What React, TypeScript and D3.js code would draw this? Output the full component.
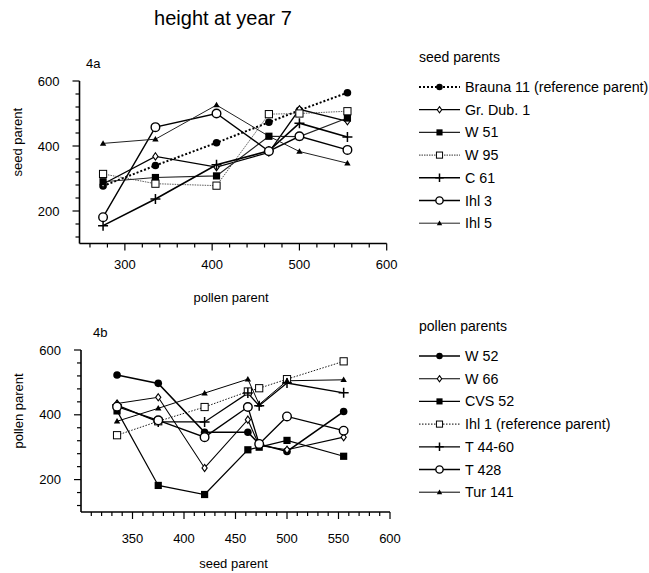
import React from "react";
import * as d3 from "d3";

// x positions: mean height of the pollen parents (4a) and seed parents (4b)
const pollenX = [275, 335, 405, 465, 500, 555];
const seedX = [335, 375, 420, 462, 473, 500, 555];

// 4a: seed parents, height at year 7
const brauna11 = [277, 340, 410, 473, 510, 564];
const grDub1 = [283, 368, 335, 380, 513, 476];
const w51 = [290, 303, 308, 430, 429, 486];
const w95 = [314, 284, 278, 498, 500, 507];
const c61 = [155, 237, 342, 385, 470, 428];
const ihl3 = [181, 458, 500, 384, 430, 388];
const ihl5 = [408, 421, 526, 430, 383, 347];

// 4b: pollen parents
const w52 = [523, 497, 346, 346, 310, 287, 410];
const w66 = [435, 454, 236, 385, 305, 292, 331];
const cvs52 = [412, 182, 154, 292, 300, 321, 272];
const ihl1 = [337, 380, 424, 472, 482, 510, 565];
const t4460 = [430, 378, 378, 467, 428, 498, 468];
const t428 = [425, 383, 331, 424, 310, 395, 351];
const tur141 = [380, 420, 467, 510, 432, 505, 508];

const seedNames = ["Brauna 11 (reference parent)", "Gr. Dub. 1", "W 51", "W 95", "C 61", "Ihl 3", "Ihl 5"];
const pollenNames = ["W 52", "W 66", "CVS 52", "Ihl 1 (reference parent)", "T 44-60", "T 428", "Tur 141"];

const yTicksMajor = [200, 400, 600];
const topXTicksMajor = [300, 400, 500, 600];
const bottomXTicksMajor = [350, 400, 450, 500, 550, 600];

type Style = { marker: string; width: number; dash?: string; color?: string };

const seedStyles: Style[] = [
  { marker: "dot", width: 2, dash: "2,2" },
  { marker: "diamond", width: 1.3 },
  { marker: "square", width: 1.2, color: "#222" },
  { marker: "osquare", width: 0.8, dash: "1.5,1", color: "#333" },
  { marker: "plus", width: 1.6 },
  { marker: "circle", width: 1.4 },
  { marker: "triangle", width: 1, color: "#222" },
];

const pollenStyles: Style[] = [
  { marker: "dot", width: 1.6 },
  { marker: "diamond", width: 1.1 },
  { marker: "square", width: 1.2 },
  { marker: "osquare", width: 0.9, dash: "1.5,1.5" },
  { marker: "plus", width: 1.3 },
  { marker: "circle", width: 1.3 },
  { marker: "triangle", width: 1 },
];

const font = "'Liberation Sans', Arial, Helvetica, sans-serif";

function Marker({ type, x, y, s = 1 }: { type: string; x: number; y: number; s?: number }) {
  switch (type) {
    case "dot":
      return <circle cx={x} cy={y} r={3.8 * s} fill="#000" />;
    case "circle":
      return <circle cx={x} cy={y} r={4.3 * s} fill="#fff" stroke="#000" strokeWidth={1.4} />;
    case "square":
      return <rect x={x - 3.6 * s} y={y - 3.6 * s} width={7.2 * s} height={7.2 * s} fill="#000" />;
    case "osquare":
      return <rect x={x - 3.6 * s} y={y - 3.6 * s} width={7.2 * s} height={7.2 * s} fill="#fff" stroke="#000" strokeWidth={1} />;
    case "diamond":
      return (
        <path d={`M${x},${y - 3.6 * s}L${x + 2.6 * s},${y}L${x},${y + 3.6 * s}L${x - 2.6 * s},${y}Z`} fill="#fff" stroke="#000" strokeWidth={1.1} />
      );
    case "triangle":
      return <path d={`M${x},${y - 3.2 * s}L${x + 3.2 * s},${y + 2.3 * s}L${x - 3.2 * s},${y + 2.3 * s}Z`} fill="#000" />;
    case "plus":
      return (
        <path d={`M${x - 5 * s},${y}H${x + 5 * s}M${x},${y - 5 * s}V${y + 5 * s}`} stroke="#000" strokeWidth={1.5} />
      );
    default:
      return null;
  }
}

function Panel({
  label, labelX, xs, series, styles, xDomain, xRange, yRange, xMajor, xMinorStep, xMinorStart, tickLabelDy, yLabel, xLabel, xLabelDy,
}: {
  label: string; labelX: number; xs: number[]; series: number[][]; styles: Style[];
  xDomain: [number, number]; xRange: [number, number]; yRange: [number, number];
  xMajor: number[]; xMinorStep: number; xMinorStart: number; tickLabelDy: number;
  yLabel: string; xLabel: string; xLabelDy: number;
}) {
  const x = d3.scaleLinear().domain(xDomain).range(xRange);
  const y = d3.scaleLinear().domain([100, 600]).range(yRange);
  const x0 = xRange[0];
  const y0 = yRange[0];
  const yMinor = d3.range(120, 601, 40);
  const xMinor = d3.range(xMinorStart, xDomain[1] + 0.1, xMinorStep);
  const line = d3.line<number>().x((_, i) => x(xs[i])).y((d) => y(d));
  const midY = (yRange[0] + yRange[1]) / 2;

  return (
    <g fontFamily={font}>
      <text x={labelX} y={yRange[1] - 13} fontSize={13}>{label}</text>
      {/* axes */}
      <line x1={x0} x2={x0} y1={y(600)} y2={y0} stroke="#000" strokeWidth={1.6} />
      <line x1={x0} x2={xRange[1]} y1={y0} y2={y0} stroke="#000" strokeWidth={1.6} />
      {yMinor.map((t) => (
        <line key={"ym" + t} x1={x0} x2={x0 - (yTicksMajor.includes(t) ? 7 : 4)} y1={y(t)} y2={y(t)} stroke="#000" strokeWidth={1.2} />
      ))}
      {yTicksMajor.map((t) => (
        <text key={"yl" + t} x={x0 - 20} y={y(t) + 4.5} fontSize={13} textAnchor="end">{t}</text>
      ))}
      {xMinor.map((t) => (
        <line key={"xm" + t} x1={x(t)} x2={x(t)} y1={y0} y2={y0 + (xMajor.includes(t) ? 7 : 4)} stroke="#000" strokeWidth={1.2} />
      ))}
      {xMajor.map((t) => (
        <text key={"xl" + t} x={x(t)} y={y0 + tickLabelDy} fontSize={13} textAnchor="middle">{t}</text>
      ))}
      <text x={(x0 + xRange[1]) / 2 - 2} y={y0 + xLabelDy} fontSize={13} textAnchor="middle">{xLabel}</text>
      <text transform={`translate(${x0 - 58},${midY - 20}) rotate(-90)`} fontSize={13} textAnchor="middle">{yLabel}</text>
      {/* series */}
      {series.map((s, i) => (
        <path key={"l" + i} d={line(s) || ""} fill="none" stroke={styles[i].color || "#000"} strokeWidth={styles[i].width} strokeDasharray={styles[i].dash} />
      ))}
      {series.map((s, i) =>
        s.map((v, j) => <Marker key={`m${i}-${j}`} type={styles[i].marker} x={x(xs[j])} y={y(v)} />)
      )}
    </g>
  );
}

function Legend({ title, names, styles, top }: { title: string; names: string[]; styles: Style[]; top: number }) {
  return (
    <g fontFamily={font}>
      <text x={419} y={top} fontSize={14}>{title}</text>
      {names.map((n, i) => {
        const yy = top + 25 + i * 22.7;
        return (
          <g key={n}>
            <line x1={419} x2={460} y1={yy} y2={yy} stroke={styles[i].color || "#000"} strokeWidth={Math.max(styles[i].width, 1)} strokeDasharray={styles[i].dash} />
            <Marker type={styles[i].marker} x={439.5} y={yy} s={0.85} />
            <text x={465} y={yy + 5} fontSize={14.3}>{n}</text>
          </g>
        );
      })}
    </g>
  );
}

export default function App() {
  const topSeries = [brauna11, grDub1, w51, w95, c61, ihl3, ihl5];
  const bottomSeries = [w52, w66, cvs52, ihl1, t4460, t428, tur141];
  return (
    <svg width={649} height={573} style={{ position: "absolute", left: 0, top: 0, background: "#fff" }}>
      <rect width={649} height={573} fill="#fff" />
      <text x={223} y={25} fontSize={20} textAnchor="middle" fontFamily={font}>height at year 7</text>
      <Panel
        label="4a" labelX={86} xs={pollenX} series={topSeries} styles={seedStyles}
        xDomain={[248, 600]} xRange={[79.5, 386.7]} yRange={[243.5, 81]}
        xMajor={topXTicksMajor} xMinorStep={20} xMinorStart={260} tickLabelDy={25}
        yLabel="seed parent" xLabel="pollen parent" xLabelDy={58}
      />
      <Panel
        label="4b" labelX={93} xs={seedX} series={bottomSeries} styles={pollenStyles}
        xDomain={[300, 600]} xRange={[81, 390]} yRange={[512, 350]}
        xMajor={bottomXTicksMajor} xMinorStep={10} xMinorStart={310} tickLabelDy={31}
        yLabel="pollen parent" xLabel="seed parent" xLabelDy={56}
      />
      <Legend title="seed parents" names={seedNames} styles={seedStyles} top={62} />
      <Legend title="pollen parents" names={pollenNames} styles={pollenStyles} top={331} />
    </svg>
  );
}
